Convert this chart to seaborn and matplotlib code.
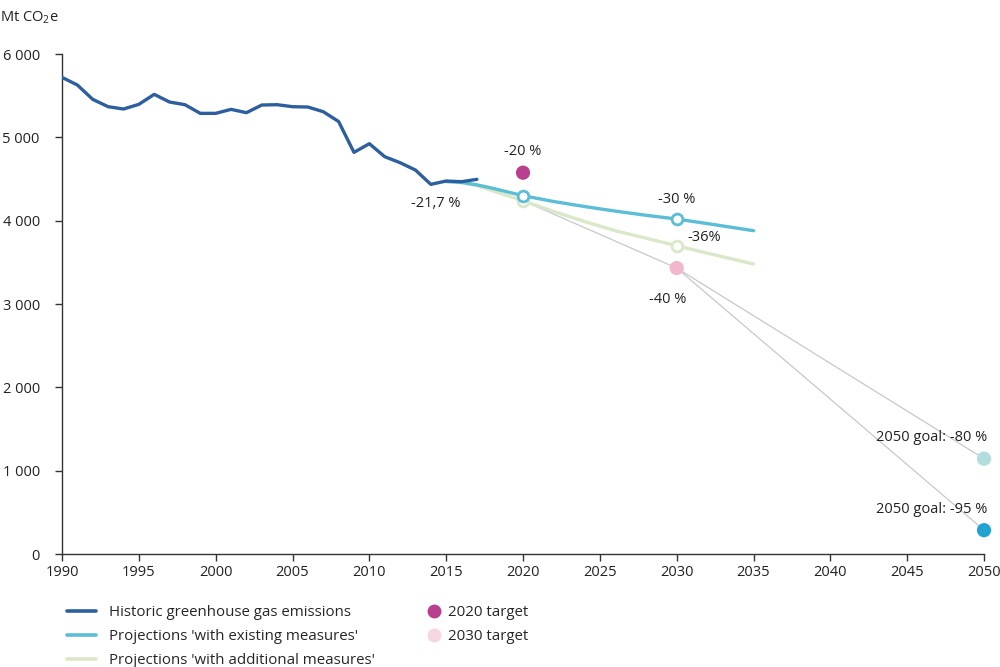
import matplotlib
matplotlib.use("Agg")
import matplotlib.pyplot as plt
import seaborn as sns
import pandas as pd
from matplotlib.lines import Line2D

hist_years = list(range(1990, 2018))
hist_values = [5720, 5628, 5456, 5368, 5340, 5396, 5516, 5424, 5392, 5288,
               5288, 5336, 5296, 5388, 5392, 5368, 5364, 5308, 5190, 4820,
               4924, 4768, 4696, 4608, 4436, 4476, 4468, 4496]

proj_years = [2015, 2016, 2017, 2018, 2019, 2020, 2022, 2024, 2026, 2028, 2030, 2032, 2035]
wem_values = [4470, 4460, 4430, 4390, 4345, 4300, 4230, 4170, 4115, 4065, 4020, 3965, 3880]
wam_values = [4470, 4455, 4420, 4360, 4300, 4240, 4110, 3990, 3880, 3790, 3700, 3610, 3480]

wem_marker_years = [2020, 2030]
wem_marker_values = [4300, 4020]
wam_marker_years = [2020, 2030]
wam_marker_values = [4240, 3700]

target_years = [2020, 2030]
target_values = [4576, 3432]
goal_years = [2050, 2050]
goal_values = [1144, 286]

y_ticks = [0, 1000, 2000, 3000, 4000, 5000, 6000]
y_ticklabels = ["0", "1 000", "2 000", "3 000", "4 000", "5 000", "6 000"]
x_ticks = list(range(1990, 2051, 5))

colors = {
    "hist": "#2d5f9e",
    "wem": "#5bbdd6",
    "wam": "#d8e8c8",
    "t2020": "#b8408f",
    "t2030": "#f2b6cd",
    "t2030_leg": "#f6d6e2",
    "g80": "#b1dedd",
    "g95": "#22a3d1",
}

sns.set_theme(style="white")
plt.rcParams["font.family"] = ["Open Sans", "DejaVu Sans"]
plt.rcParams["mathtext.fontset"] = "custom"
plt.rcParams["mathtext.rm"] = "Open Sans"
plt.rcParams["mathtext.it"] = "Open Sans"

fig = plt.figure(figsize=(10, 6.67), dpi=100)
ax = fig.add_axes([0.062, 0.1694, 0.922, 0.7496])

# gray guide lines
ax.plot([wam_marker_years[0], target_years[1]], [wam_marker_values[0], target_values[1]],
        color="#c8c8c8", lw=0.9, zorder=1)
for gv in goal_values:
    ax.plot([target_years[1], goal_years[0]], [target_values[1], gv],
            color="#c8c8c8", lw=0.9, zorder=1)

df_h = pd.DataFrame({"year": hist_years, "value": hist_values})
df_wem = pd.DataFrame({"year": proj_years, "value": wem_values})
df_wam = pd.DataFrame({"year": proj_years, "value": wam_values})

lw = 2.4
sns.lineplot(data=df_wam, x="year", y="value", ax=ax, color=colors["wam"], lw=lw, zorder=2)
sns.lineplot(data=df_wem, x="year", y="value", ax=ax, color=colors["wem"], lw=lw, zorder=3)
sns.lineplot(data=df_h, x="year", y="value", ax=ax, color=colors["hist"], lw=lw, zorder=4)

# open circle markers
ax.scatter(wam_marker_years, wam_marker_values, s=60, facecolor="white",
           edgecolor=colors["wam"], linewidth=2.0, zorder=5)
ax.scatter(wem_marker_years, wem_marker_values, s=60, facecolor="white",
           edgecolor=colors["wem"], linewidth=2.0, zorder=6)

ms = 105
sns.scatterplot(x=[target_years[0]], y=[target_values[0]], ax=ax, color=colors["t2020"],
                s=ms, edgecolor="none", zorder=6)
sns.scatterplot(x=[target_years[1]], y=[target_values[1]], ax=ax, color=colors["t2030"],
                s=ms, edgecolor="none", zorder=6)
sns.scatterplot(x=[goal_years[0]], y=[goal_values[0]], ax=ax, color=colors["g80"],
                s=ms, edgecolor="none", zorder=6, clip_on=False)
sns.scatterplot(x=[goal_years[1]], y=[goal_values[1]], ax=ax, color=colors["g95"],
                s=ms, edgecolor="none", zorder=6, clip_on=False)

fs = 10.5
tc = "#222222"
ax.text(2020, 4830, "-20 %", ha="center", va="center", fontsize=fs, color=tc)
ax.text(2014.3, 4210, "-21,7 %", ha="center", va="center", fontsize=fs, color=tc)
ax.text(2030, 4250, "-30 %", ha="center", va="center", fontsize=fs, color=tc)
ax.text(2031.8, 3800, "-36%", ha="center", va="center", fontsize=fs, color=tc)
ax.text(2029.4, 3060, "-40 %", ha="center", va="center", fontsize=fs, color=tc)
ax.text(2050.2, 1400, "2050 goal: -80 %", ha="right", va="center", fontsize=fs, color=tc)
ax.text(2050.2, 530, "2050 goal: -95 %", ha="right", va="center", fontsize=fs, color=tc)

ax.set_xlim(1990, 2050)
ax.set_ylim(0, 6000)
ax.set_xticks(x_ticks)
ax.set_yticks(y_ticks)
ax.set_yticklabels(y_ticklabels)
ax.set_xlabel("")
ax.set_ylabel("")
sns.despine(ax=ax)
for sp in ["left", "bottom"]:
    ax.spines[sp].set_color("#333333")
    ax.spines[sp].set_linewidth(1.0)
ax.tick_params(axis="both", direction="out", length=5, width=1, color="#333333",
               labelsize=10.5, labelcolor=tc, left=True, bottom=True)
ax.tick_params(axis="x", pad=3)
ax.tick_params(axis="y", pad=11)
ax.grid(False)

fig.text(0.0, 0.974, "Mt CO$_\\mathregular{2}$e", fontsize=10.5, color=tc, ha="left", va="center")

h1 = [Line2D([0], [0], color=colors["hist"], lw=2.6),
      Line2D([0], [0], color=colors["wem"], lw=2.6),
      Line2D([0], [0], color=colors["wam"], lw=2.6)]
l1 = ["Historic greenhouse gas emissions", "Projections 'with existing measures'",
      "Projections 'with additional measures'"]
fig.legend(h1, l1, loc="upper left", bbox_to_anchor=(0.067, 0.093), frameon=False,
           fontsize=10.8, handlelength=1.9, labelspacing=0.6, handletextpad=0.9,
           borderaxespad=0, borderpad=0)
h2 = [Line2D([0], [0], marker="o", color="none", markerfacecolor=colors["t2020"],
             markeredgecolor="none", markersize=10),
      Line2D([0], [0], marker="o", color="none", markerfacecolor=colors["t2030_leg"],
             markeredgecolor="none", markersize=10)]
l2 = ["2020 target", "2030 target"]
fig.legend(h2, l2, loc="upper left", bbox_to_anchor=(0.426, 0.093), frameon=False,
           fontsize=10.8, handlelength=1.0, labelspacing=0.6, handletextpad=0.45,
           borderaxespad=0, borderpad=0)

fig.savefig("out.png", dpi=100)
